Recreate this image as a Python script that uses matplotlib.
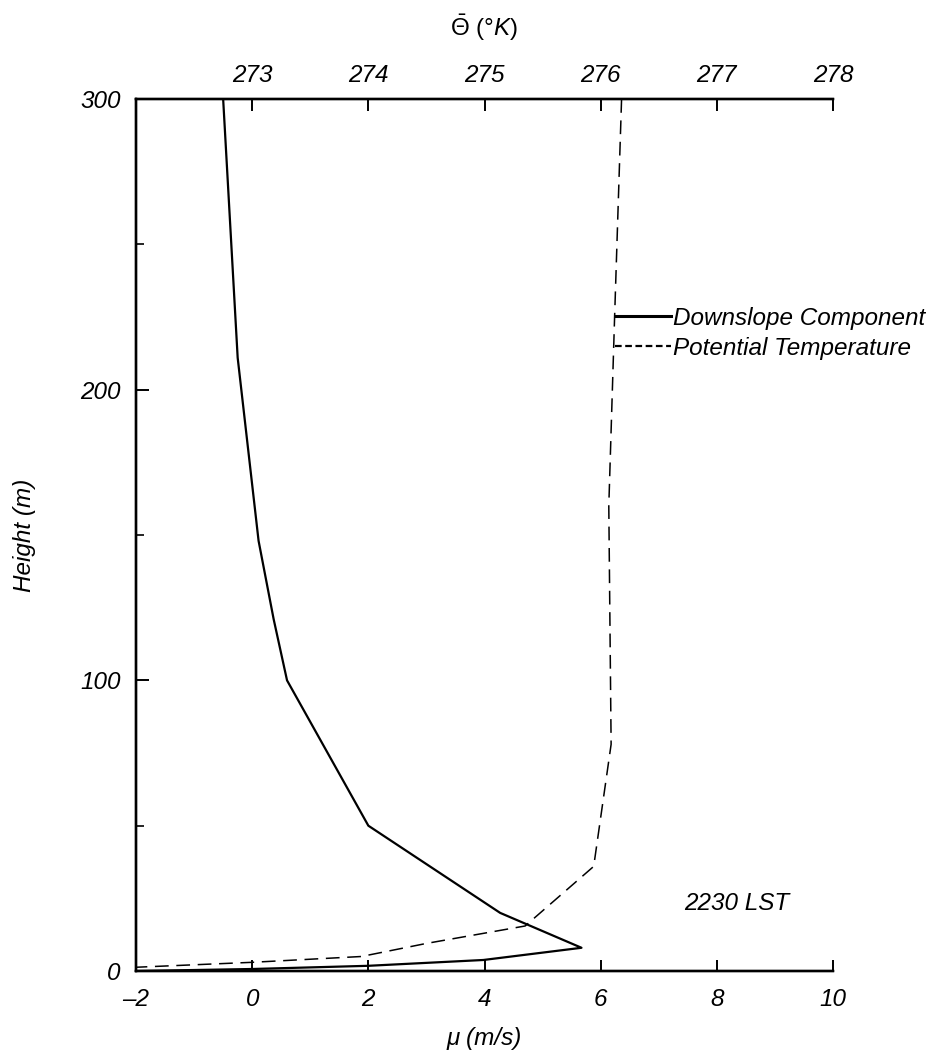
import matplotlib
matplotlib.use('Agg')
import matplotlib.pyplot as plt
from matplotlib.lines import Line2D
from matplotlib.ticker import MultipleLocator

# downslope wind component (m/s vs height in m)
wind_height = [300, 211, 148, 121, 100, 50, 20, 8, 3.8, 1.8, 0.7, 0]
wind_speed = [-0.50, -0.25, 0.11, 0.37, 0.60, 2.0, 4.27, 5.67, 3.98, 2.0, 0.0, -2.0]

# potential temperature profile (K), plotted on the top axis
theta_height = [300, 225, 160, 78, 36, 15.5, 9.5, 5.0, 3.0, 1.3]
theta = [276.18, 276.12, 276.07, 276.09, 275.94, 275.35, 274.5, 273.94, 273.0, 272.0]

mu_ticks = [-2, 0, 2, 4, 6, 8, 10]
theta_ticks = [273, 274, 275, 276, 277, 278]
height_ticks = [0, 100, 200, 300]

plt.rcParams['font.family'] = ['Liberation Sans', 'DejaVu Sans']
plt.rcParams['font.style'] = 'italic'
plt.rcParams['mathtext.fontset'] = 'custom'
plt.rcParams['mathtext.rm'] = 'Liberation Sans:roman'
plt.rcParams['mathtext.it'] = 'Liberation Sans:italic'

FS = 17.5


def main():
    fig = plt.figure(figsize=(9.33, 10.58), dpi=100)
    ax = fig.add_axes([0.1458, 0.0822, 0.7470, 0.8242])

    ax.plot(wind_speed, wind_height, color='black', lw=1.6)
    ax.set_xlim(-2, 10)
    ax.set_ylim(0, 300)

    ax2 = ax.twiny()
    ax2.plot(theta, theta_height, color='black', lw=1.1, ls=(0, (9, 5)))
    ax2.set_xlim(272, 278)

    # axes look: no right border, ticks pointing inward
    for a in (ax, ax2):
        a.spines['right'].set_visible(False)
        for s in a.spines.values():
            s.set_linewidth(1.7)

    ax.set_xticks(mu_ticks)
    ax.set_xticklabels([str(t).replace('-', '\u2013') for t in mu_ticks])
    ax.set_yticks(height_ticks)
    ax.yaxis.set_minor_locator(MultipleLocator(50))
    ax.tick_params(axis='x', direction='in', length=8, width=1.4,
                   labelsize=FS, pad=12, top=False)
    ax.tick_params(axis='y', which='major', direction='in', length=9.5,
                   width=1.4, labelsize=FS, pad=11, right=False)
    ax.tick_params(axis='y', which='minor', direction='in', length=6,
                   width=1.2, right=False)

    ax2.set_xticks(theta_ticks)
    ax2.tick_params(axis='x', direction='in', length=8.5, width=1.4,
                    labelsize=FS, pad=9)

    ax.set_xlabel('\u03bc (m/s)', fontsize=FS, labelpad=12)
    ax.set_ylabel('Height (m)', fontsize=FS, labelpad=32)
    ax2.set_xlabel(r'$\bar{\mathrm{\Theta}}$ (°$\mathit{K}$)', fontsize=FS,
                   fontstyle='normal', labelpad=20)

    ax2.text(8.35, 23.3, '2230 LST', transform=ax.transData, fontsize=FS,
             ha='center', va='center')

    # legend keys drawn short, like in the original
    handles = [Line2D([], [], color='black', lw=2.2),
               Line2D([], [], color='black', lw=1.6, ls=(0, (3, 1.6)))]
    ax2.legend(handles, ['Downslope Component', 'Potential Temperature'],
               loc='upper left', bbox_to_anchor=(0.687, 0.762), frameon=False,
               fontsize=FS, borderaxespad=0, borderpad=0, handlelength=2.3,
               handletextpad=0.1, labelspacing=0.3)

    fig.savefig('out.png', dpi=100)


if __name__ == '__main__':
    main()
